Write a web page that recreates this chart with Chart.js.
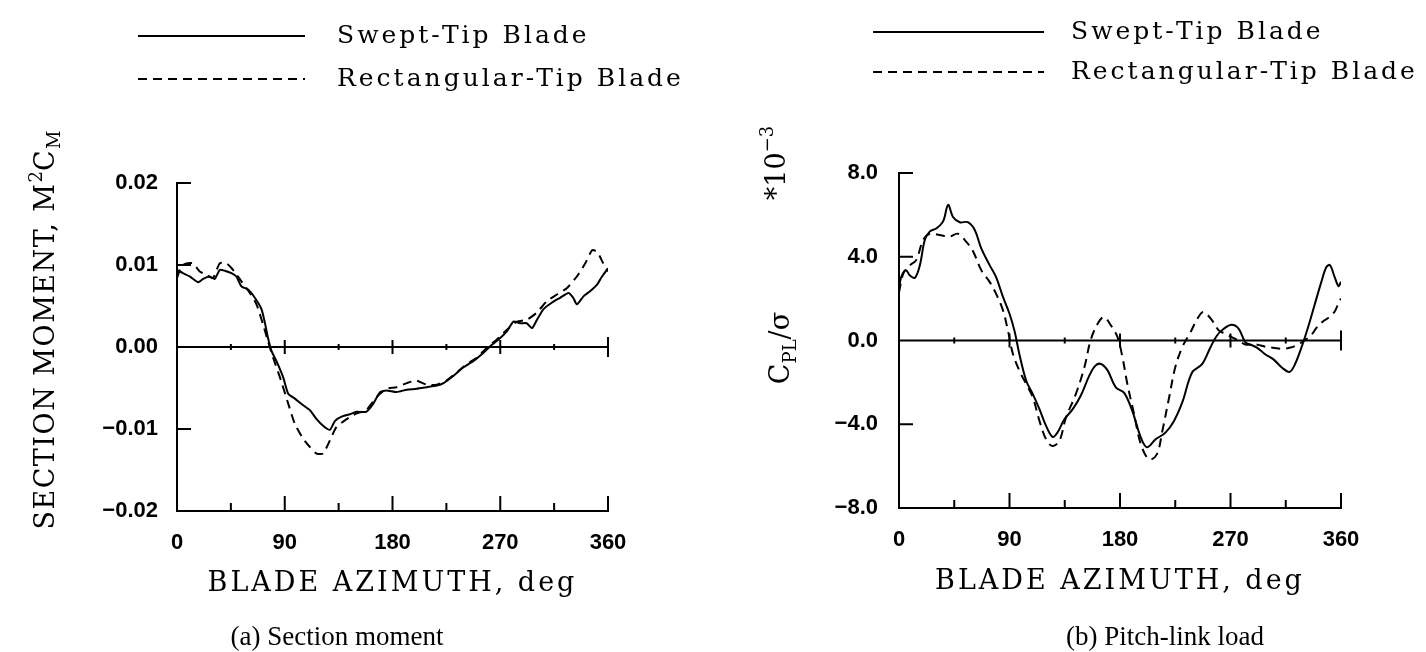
<!DOCTYPE html>
<html>
<head>
<meta charset="utf-8">
<script src="https://cdn.jsdelivr.net/npm/chart.js@4.4.1/dist/chart.umd.min.js"></script>
<style>
  html, body { margin: 0; padding: 0; background: #fff; }
  body { width: 1426px; height: 652px; position: relative; overflow: hidden; }
  canvas { position: absolute; top: 0; }
  #leftChart { left: 0; }
  #rightChart { left: 713px; }
</style>
</head>
<body>
<canvas id="leftChart" width="713" height="652"></canvas>
<canvas id="rightChart" width="713" height="652"></canvas>
<script>
// tick values and labels
const azTicks = [0, 90, 180, 270, 360];
const azTickLabels = ["0", "90", "180", "270", "360"];
const azMarks = [45, 90, 135, 180, 225, 270, 315, 360];
const momentTicks = [-0.02, -0.01, 0, 0.01, 0.02];
const momentTickLabels = ["\u22120.02", "\u22120.01", "0.00", "0.01", "0.02"];
const loadTicks = [-8, -4, 0, 4, 8];
const loadTickLabels = ["\u22128.0", "\u22124.0", "0.0", "4.0", "8.0"];

// (a) section moment, swept tip
const momentSweptAz = [0, 5, 10.6, 17.6, 21.8, 27, 31.5, 35.7, 39.9, 45.5, 49.6, 53.8, 59.4, 65, 70.6, 73.2, 76, 79, 83, 88.7,
  92.9, 98.5, 105.4, 111, 116.6, 122, 127.7, 132, 137.5, 144.5, 150, 158, 164, 169.6, 175, 183.5, 192, 200, 208.6, 217,
  222.6, 231, 239, 247.7, 256, 261.6, 270, 275.5, 281, 286.7, 292, 296.5, 300.6, 306, 313, 320, 327, 331, 334, 339.7,
  345, 350.9, 355, 360];
const momentSwept = [0.0094, 0.009, 0.0086, 0.0079, 0.0083, 0.0086, 0.0083, 0.0094, 0.0093, 0.009, 0.0086, 0.0074, 0.007, 0.006, 0.0046, 0.0031, 0.0011, -0.0005, -0.0017, -0.0037,
  -0.0057, -0.0063, -0.0071, -0.0077, -0.0088, -0.0096, -0.0101, -0.009, -0.0085, -0.0082, -0.0079, -0.0079, -0.0069, -0.0055, -0.0053, -0.0055, -0.0052, -0.0051, -0.0049, -0.0047,
  -0.0044, -0.0035, -0.0025, -0.0017, -0.0007, 0.0001, 0.0011, 0.0019, 0.0031, 0.0029, 0.0029, 0.0023, 0.0033, 0.0046, 0.0054, 0.006, 0.0066, 0.006, 0.0052, 0.0062,
  0.0068, 0.0076, 0.0086, 0.0096];

// (a) section moment, rectangular tip
const momentRectAz = [0, 3.6, 7.8, 13.4, 19, 24.5, 30, 35.7, 41.3, 48, 53.8, 60.8, 66.4, 72, 76, 80.3, 86, 92.9, 98.5, 105.4,
  111, 116.6, 122, 127.7, 133, 141.7, 150, 158, 166.8, 175, 183.5, 192, 200, 208.6, 217, 225, 233.7, 242, 250.4, 258.8,
  267, 275.5, 284, 292, 300.6, 309, 317.4, 325.8, 334, 341, 346.7, 351, 356, 360];
const momentRect = [0.0084, 0.0098, 0.0102, 0.0102, 0.0092, 0.0088, 0.0084, 0.0102, 0.0102, 0.0092, 0.008, 0.0066, 0.0052, 0.0027, 0.0007, -0.0013, -0.0037, -0.0069, -0.0094, -0.0112,
  -0.0122, -0.013, -0.013, -0.0114, -0.0098, -0.0088, -0.0081, -0.0077, -0.0061, -0.0051, -0.0049, -0.0044, -0.0041, -0.0046, -0.0046, -0.0041, -0.0031, -0.0021, -0.0013, -0.0001,
  0.0009, 0.0021, 0.0031, 0.0033, 0.0042, 0.0056, 0.0064, 0.0072, 0.0086, 0.0102, 0.0118, 0.0116, 0.0102, 0.0092];

// (b) pitch-link load (x 10^-3), swept tip
const loadSweptAz = [0, 2.2, 5.7, 8.9, 13, 17, 21, 25, 30.6, 36, 40, 44, 49.5, 56, 61.7, 67, 73.8, 79, 84.7, 90,
  94, 98, 103.6, 109, 114.4, 119.8, 125, 129, 134.7, 141.5, 148, 155, 160, 164.5, 170, 176.6, 183.4, 190, 197, 202,
  209, 217, 224, 230.7, 238.8, 247, 253.7, 259, 264.5, 271, 276.7, 282, 286, 291.8, 298.5, 305, 312, 318, 322, 328,
  333, 338, 344, 348, 351, 355, 358, 360];
const loadSwept = [2.56, 3.1, 3.36, 3.1, 3.0, 3.6, 4.8, 5.2, 5.36, 5.7, 6.48, 5.9, 5.65, 5.65, 5.28, 4.4, 3.6, 3.04, 2.08, 1.28,
  0.48, -0.64, -1.92, -2.56, -3.28, -4.08, -4.6, -4.4, -3.76, -3.28, -2.64, -1.68, -1.2, -1.12, -1.44, -2.24, -2.5, -3.36, -4.64, -5.1,
  -4.72, -4.4, -3.84, -2.96, -1.52, -1.12, -0.32, 0.24, 0.56, 0.75, 0.56, -0.08, -0.19, -0.35, -0.67, -0.9, -1.3, -1.5, -1.2, -0.3,
  0.6, 1.6, 2.8, 3.5, 3.6, 3.0, 2.6, 2.8];

// (b) pitch-link load (x 10^-3), rectangular tip
const loadRectAz = [0, 3.5, 9, 14, 19.7, 25, 33, 41, 48, 55, 60, 67, 73.8, 79, 84.7, 88.7, 92.8, 98, 103.6, 109,
  114.4, 119.8, 125, 130.6, 136, 144, 151, 156, 161.8, 167, 172.6, 178, 182, 186, 191.5, 197, 203.7, 210, 214.5, 220,
  225, 230.7, 237.5, 243, 248, 255, 260.5, 266, 271, 276.7, 282, 291.8, 298.5, 305, 312, 318, 325, 330, 335, 340,
  345, 350, 355, 358, 360];
const loadRect = [2.3, 3.2, 3.6, 3.84, 4.8, 5.1, 5.04, 4.96, 5.1, 4.7, 4.3, 3.36, 2.8, 2.24, 1.44, 0.48, -0.64, -1.44, -2.08, -2.72,
  -3.84, -4.72, -5.04, -4.8, -3.68, -2.56, -1.28, 0, 0.8, 1.12, 0.72, 0.16, -0.8, -2.08, -3.52, -4.96, -5.68, -5.44, -4.32, -2.72,
  -1.28, -0.32, 0.4, 1.04, 1.36, 0.96, 0.48, 0.32, 0.16, 0, -0.19, -0.2, -0.3, -0.35, -0.4, -0.35, -0.2, 0, 0.2, 0.6,
  0.9, 1.1, 1.4, 1.8, 2.0];

const seriesNames = ["Swept-Tip Blade", "Rectangular-Tip Blade"];
const dash = [9, 6];

const TITLE_FONT = "27px 'DejaVu Serif'";
const TICK_FONT = { family: "'Liberation Sans', Arial, sans-serif", size: 22, weight: "bold" };

function toPoints(xs, ys) {
  return xs.map((x, i) => ({ x: x, y: ys[i] }));
}

// draws a run of text pieces (normal/sup/sub) starting at x,y on the current transform
function drawPieces(ctx, pieces, x, y) {
  let cx = x;
  pieces.forEach(p => {
    ctx.font = p.font;
    ctx.letterSpacing = p.spacing || "0px";
    ctx.fillText(p.t, cx, y + (p.dy || 0));
    cx += ctx.measureText(p.t).width;
  });
  return cx - x;
}

function piecesWidth(ctx, pieces) {
  let w = 0;
  pieces.forEach(p => {
    ctx.font = p.font;
    ctx.letterSpacing = p.spacing || "0px";
    w += ctx.measureText(p.t).width;
  });
  return w;
}

function decor(cfg) {
  return {
    id: "decor",
    afterDraw(chart) {
      const ctx = chart.ctx;
      const xs = chart.scales.x, ys = chart.scales.y;
      const area = chart.chartArea;
      ctx.save();
      ctx.strokeStyle = "#000";
      ctx.fillStyle = "#000";
      ctx.lineWidth = 2;

      // zero line with crosses, inner ticks on the axes
      const y0 = ys.getPixelForValue(0);
      ctx.beginPath();
      ctx.moveTo(area.left, y0);
      ctx.lineTo(area.right, y0);
      azMarks.forEach(v => {
        const px = xs.getPixelForValue(v);
        const major = v % 90 === 0;
        const h = v === 360 ? 10 : (major ? 7 : 3);
        ctx.moveTo(px, y0 - h);
        ctx.lineTo(px, y0 + h);
        const t = major ? 15 : 8;
        ctx.moveTo(px, area.bottom);
        ctx.lineTo(px, area.bottom - t);
      });
      cfg.yMarks.forEach(v => {
        const py = ys.getPixelForValue(v);
        ctx.moveTo(area.left, py);
        ctx.lineTo(area.left + 14, py);
      });
      ctx.stroke();

      // legend
      ctx.textBaseline = "middle";
      ctx.textAlign = "left";
      cfg.legendRows.forEach((row, i) => {
        ctx.setLineDash(i === 0 ? [] : dash);
        ctx.beginPath();
        ctx.moveTo(cfg.legendX0, row);
        ctx.lineTo(cfg.legendX1, row);
        ctx.stroke();
        ctx.setLineDash([]);
        ctx.font = "25px 'DejaVu Serif'";
        ctx.letterSpacing = "3px";
        ctx.fillText(seriesNames[i], cfg.legendText, row);
      });

      // x title and caption
      const cx = (area.left + area.right) / 2;
      ctx.textAlign = "center";
      ctx.font = TITLE_FONT;
      ctx.letterSpacing = "3px";
      ctx.fillText("BLADE AZIMUTH, deg", cx, cfg.xTitleY);
      ctx.font = "27px 'Liberation Serif'";
      ctx.letterSpacing = "0px";
      ctx.fillText(cfg.caption, cfg.captionX, cfg.captionY);

      // rotated y titles
      ctx.textAlign = "left";
      ctx.textBaseline = "alphabetic";
      cfg.yTitles.forEach(tt => {
        ctx.save();
        ctx.translate(tt.x, tt.y);
        ctx.rotate(-Math.PI / 2);
        const w = piecesWidth(ctx, tt.pieces);
        drawPieces(ctx, tt.pieces, -w / 2, 0);
        ctx.restore();
      });
      ctx.restore();
    }
  };
}

function makeChart(id, sets, yTicks, yLabels, yMin, yMax, box, cfg, tension) {
  return new Chart(document.getElementById(id), {
    type: "line",
    data: {
      datasets: sets.map((s, i) => ({
        label: seriesNames[i],
        data: s,
        borderColor: "#000",
        borderWidth: 2,
        borderDash: i === 0 ? [] : dash,
        pointRadius: 0,
        tension: tension,
        fill: false
      }))
    },
    options: {
      responsive: false,
      animation: false,
      events: [],
      layout: { padding: { left: 0, right: box.right, top: box.top, bottom: 0 } },
      plugins: { legend: { display: false }, tooltip: { enabled: false } },
      scales: {
        x: {
          type: "linear",
          min: 0,
          max: 360,
          afterBuildTicks: s => { s.ticks = azTicks.map(v => ({ value: v })); },
          afterFit: s => { s.height = box.xHeight; },
          grid: { display: false, drawTicks: false },
          border: { display: true, color: "#000", width: 2 },
          ticks: {
            color: "#000",
            font: TICK_FONT,
            padding: box.xPad,
            maxRotation: 0,
            callback: (v, i) => azTickLabels[i]
          }
        },
        y: {
          type: "linear",
          min: yMin,
          max: yMax,
          afterBuildTicks: s => { s.ticks = yTicks.map(v => ({ value: v })); },
          afterFit: s => { s.width = box.yWidth; },
          grid: { display: false, drawTicks: false },
          border: { display: true, color: "#000", width: 2 },
          ticks: {
            color: "#000",
            font: TICK_FONT,
            padding: box.yPad,
            callback: (v, i) => yLabels[i]
          }
        }
      }
    },
    plugins: [decor(cfg)]
  });
}

const bigSerif = "27px 'DejaVu Serif'";
const smallSerif = "18px 'DejaVu Serif'";

makeChart("leftChart",
  [toPoints(momentSweptAz, momentSwept), toPoints(momentRectAz, momentRect)],
  momentTicks, momentTickLabels, -0.02, 0.02,
  { yWidth: 177, right: 105, top: 183, xHeight: 141, xPad: 19, yPad: 19 },
  {
    yMarks: [0.02, 0.01, -0.01],
    legendRows: [36, 79], legendX0: 138, legendX1: 305, legendText: 337,
    xTitleY: 584, caption: "(a) Section moment", captionX: 337, captionY: 638,
    yTitles: [{
      x: 54, y: 330,
      pieces: [
        { t: "SECTION MOMENT, M", font: bigSerif, spacing: "1.5px" },
        { t: "2", font: smallSerif, dy: -12 },
        { t: "C", font: bigSerif, spacing: "1.5px" },
        { t: "M", font: smallSerif, dy: 6 }
      ]
    }]
  }, 0.2);

makeChart("rightChart",
  [toPoints(loadSweptAz, loadSwept), toPoints(loadRectAz, loadRect)],
  loadTicks, loadTickLabels, -8, 8,
  { yWidth: 186, right: 85, top: 173, xHeight: 144, xPad: 19, yPad: 21 },
  {
    yMarks: [8, 4, -4],
    legendRows: [32, 72], legendX0: 160, legendX1: 331, legendText: 358,
    xTitleY: 582, caption: "(b) Pitch-link load", captionX: 452, captionY: 638,
    yTitles: [{
      x: 76, y: 348,
      pieces: [
        { t: "C", font: bigSerif },
        { t: "PL", font: smallSerif, dy: 7 },
        { t: "/\u03c3", font: bigSerif }
      ]
    }, {
      x: 72, y: 163,
      pieces: [
        { t: "*10", font: bigSerif },
        { t: "\u22123", font: smallSerif, dy: -12 }
      ]
    }]
  }, 0.35);
</script>
</body>
</html>
